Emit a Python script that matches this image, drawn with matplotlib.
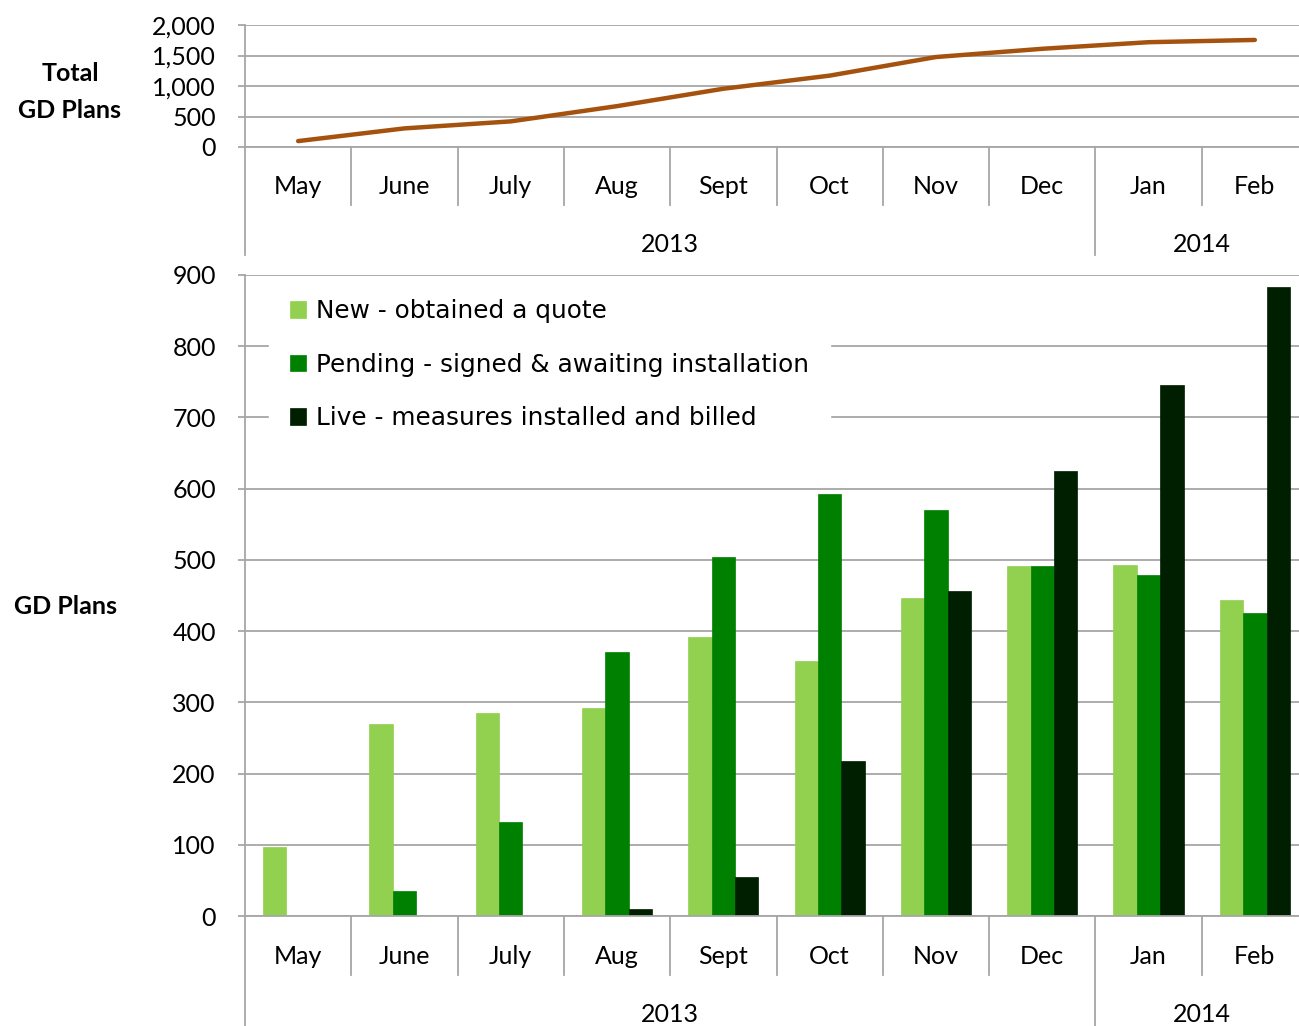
import matplotlib
matplotlib.use('Agg')
import matplotlib.pyplot as plt
from matplotlib import transforms
from matplotlib.lines import Line2D

# ---- data ----
months = ['May', 'June', 'July', 'Aug', 'Sept', 'Oct', 'Nov', 'Dec', 'Jan', 'Feb']
years = ['2013', '2014']
year_start = [0, 8]          # first month index for each year
total_plans = [97, 305, 420, 670, 955, 1170, 1475, 1610, 1718, 1755]
new_quote = [97, 270, 285, 292, 392, 358, 447, 491, 493, 444]
pending = [0, 35, 132, 371, 504, 593, 570, 491, 479, 425]
live = [0, 0, 0, 10, 55, 217, 457, 625, 745, 883]
series_names = ['New - obtained a quote',
                'Pending - signed & awaiting installation',
                'Live - measures installed and billed']
series_colors = ['#92D050', '#008000', '#001F00']
top_ticks = [0, 500, 1000, 1500, 2000]
bot_ticks = [0, 100, 200, 300, 400, 500, 600, 700, 800, 900]

W, H = 1299, 1026
fig = plt.figure(figsize=(W / 100, H / 100), dpi=100)
fig.patch.set_facecolor('white')

LABEL_FONT = ['Lato', 'DejaVu Sans']
GRID = '#A6A6A6'


def fy(py):
    return 1 - py / H


def fx(px):
    return px / W


ax_top = fig.add_axes([fx(245), fy(147), (1308 - 245) / W, (147 - 25) / H])
ax_bot = fig.add_axes([fx(245), fy(916), (1308 - 245) / W, (916 - 275) / H])

n = len(months)
xs = [i + 0.5 for i in range(n)]


def style_value_axis(ax, ticks, fmt):
    ax.set_xlim(0, n)
    ax.set_ylim(ticks[0], ticks[-1])
    ax.set_yticks(ticks)
    ax.set_yticklabels([fmt(t) for t in ticks], fontfamily=LABEL_FONT, fontsize=18)
    ax.set_xticks([])
    for s in ['top', 'right']:
        ax.spines[s].set_visible(False)
    for s in ['left', 'bottom']:
        ax.spines[s].set_color(GRID)
        ax.spines[s].set_linewidth(1.3)
    ax.tick_params(axis='y', length=5, width=1.3, color=GRID, pad=16)
    ax.yaxis.grid(True, color=GRID, linewidth=1.3)
    ax.set_axisbelow(True)


def category_axis(ax, axis_py, sep_py, label_py, year_sep_py, year_label_py):
    tr = transforms.blended_transform_factory(ax.transData, fig.transFigure)
    # left extension of axis line
    fig.add_artist(Line2D([0, 0], [fy(axis_py), fy(year_sep_py)], transform=tr,
                          color=GRID, linewidth=1.3, clip_on=False))
    for i in range(1, n + 1):
        bottom = year_sep_py if i in year_start or i == n else sep_py
        fig.add_artist(Line2D([i, i], [fy(axis_py), fy(bottom)], transform=tr,
                              color=GRID, linewidth=1.3, clip_on=False))
    for x, m in zip(xs, months):
        fig.text(x, fy(label_py), m, transform=tr, ha='center', va='center',
                 fontfamily=LABEL_FONT, fontsize=18)
    bounds = year_start + [n]
    for k, y in enumerate(years):
        cx = (bounds[k] + bounds[k + 1]) / 2
        fig.text(cx, fy(year_label_py), y, transform=tr, ha='center', va='center',
                 fontfamily=LABEL_FONT, fontsize=18)


# ---- top line chart ----
style_value_axis(ax_top, top_ticks, lambda t: f'{t:,}')
ax_top.plot(xs, total_plans, color='#A5520F', linewidth=3.2, solid_capstyle='round')
category_axis(ax_top, 147, 205, 187, 255, 245)
fig.text(fx(70), fy(92), 'Total\nGD Plans', ha='center', va='center',
         fontfamily=LABEL_FONT, fontsize=18, fontweight='bold', linespacing=1.7)

# ---- bottom bar chart ----
style_value_axis(ax_bot, bot_ticks, lambda t: f'{t}')
bw = 0.22
for k, (vals, col, name) in enumerate(zip([new_quote, pending, live], series_colors, series_names)):
    ax_bot.bar([x + (k - 1) * bw for x in xs], vals, width=bw, color=col,
               edgecolor=col, linewidth=0.5, label=name, zorder=2)
category_axis(ax_bot, 916, 975, 957, 1030, 1015)
fig.text(fx(65), fy(607), 'GD Plans', ha='center', va='center',
         fontfamily=LABEL_FONT, fontsize=18, fontweight='bold')

leg = ax_bot.legend(loc='upper left',
                    bbox_to_anchor=((269 - 245) / 1063, 1 - 3 / 641),
                    frameon=True, fancybox=False, framealpha=1, edgecolor='white',
                    prop={'family': 'DejaVu Sans', 'size': 17.8},
                    handlelength=0.65, handleheight=0.65, handletextpad=0.4,
                    labelspacing=1.2, borderpad=0.85, borderaxespad=0.0)
leg.set_zorder(5)

fig.savefig('out.png', dpi=100, facecolor='white')
